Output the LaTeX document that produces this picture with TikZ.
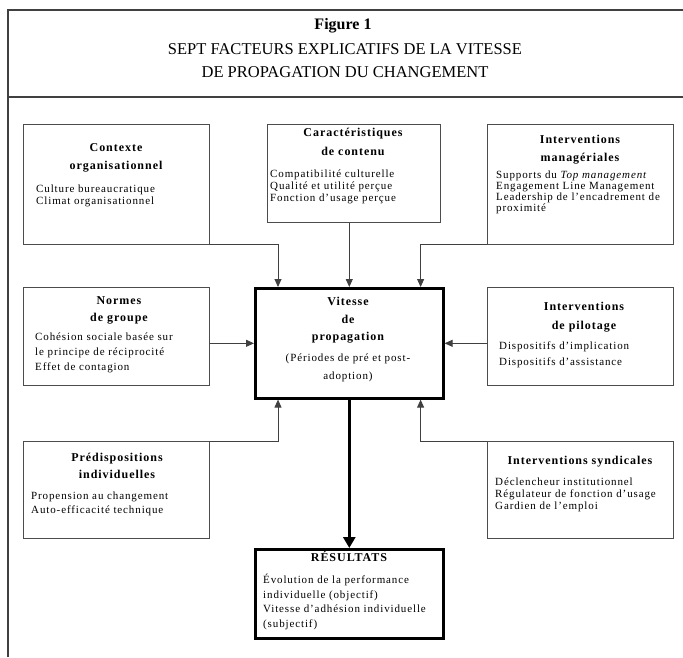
\documentclass[tikz,border=0pt]{standalone}
\usepackage{fontspec}
\setmainfont{Liberation Serif}
\newfontfamily\bodyfont{Liberation Serif}[LetterSpace=8]
\usetikzlibrary{arrows.meta}
\begin{document}
\begin{tikzpicture}[x=1pt,y=-1pt,
  box/.style={draw=black!70, line width=0.9pt, anchor=north west, inner sep=0pt},
  mainbox/.style={draw=black, line width=2.6pt, anchor=north west, inner sep=0pt},
  frame/.style={draw=black!75, line width=1.3pt},
  conn/.style={draw=black!75, line width=0.9pt, -{Triangle[length=8pt,width=7pt]}},
  bigconn/.style={draw=black, line width=3pt, -{Triangle[length=11pt,width=12pt]}},
  bt/.style={font=\bodyfont\fontsize{11}{12}\selectfont, inner sep=0pt, anchor=mid west},
  bc/.style={font=\bodyfont\fontsize{11}{12}\selectfont, inner sep=0pt, anchor=mid},
  tt/.style={font=\bodyfont\bfseries\fontsize{12}{13}\selectfont, inner sep=0pt, anchor=mid},
  hd/.style={font=\fontsize{16.5}{18}\selectfont, inner sep=0pt, anchor=mid}
]
\useasboundingbox (0,0) rectangle (683,657);
% frame
\draw[frame] (8,657) -- (8,10) -- (683,10);
\draw[frame] (8,97) -- (683,97);
\node[hd, font=\bfseries\fontsize{16}{18}\selectfont] (h1) at (343,27) {Figure 1};
\node[hd] (h2) at (345,52) {SEPT FACTEURS EXPLICATIFS DE LA VITESSE};
\node[hd] (h3) at (345,75) {DE PROPAGATION DU CHANGEMENT};

% boxes
\node[box, minimum width=186pt, minimum height=120pt] (ctx) at (23,124) {};
\node[box, minimum width=173pt, minimum height=98pt] (car) at (267,124) {};
\node[box, minimum width=186pt, minimum height=120pt] (man) at (487,124) {};
\node[box, minimum width=186pt, minimum height=98pt] (nor) at (23,287) {};
\node[box, minimum width=186pt, minimum height=98pt] (pil) at (487,287) {};
\node[box, minimum width=186pt, minimum height=97pt] (pre) at (23,441) {};
\node[box, minimum width=186pt, minimum height=97pt] (syn) at (487,441) {};
\node[mainbox, minimum width=188pt, minimum height=110pt] (vit) at (254,287) {};
\node[mainbox, minimum width=188pt, minimum height=89pt] (res) at (254,548) {};

% texts: Contexte
\node[tt] (ctx1) at (116,149) {Contexte};
\node[tt] (ctx2) at (116,167) {organisationnel};
\node[bt] (ctx3) at (36,190) {Culture bureaucratique};
\node[bt] (ctx4) at (36,202) {Climat organisationnel};
% Caracteristiques
\node[tt] (car1) at (353,134) {Caractéristiques};
\node[tt] (car2) at (353,153) {de contenu};
\node[bt] (car3) at (270,175) {Compatibilité culturelle};
\node[bt] (car4) at (270,187) {Qualité et utilité perçue};
\node[bt] (car5) at (270,199) {Fonction d’usage perçue};
% Manageriales
\node[tt] (man1) at (580,141) {Interventions};
\node[tt] (man2) at (580,159) {managériales};
\node[bt] (man3) at (496,176) {Supports du \textit{Top management}};
\node[bt] (man4) at (496,187) {Engagement Line Management};
\node[bt] (man5) at (496,198) {Leadership de l’encadrement de};
\node[bt] (man6) at (496,209) {proximité};
% Normes
\node[tt] (nor1) at (119,302) {Normes};
\node[tt] (nor2) at (119,319) {de groupe};
\node[bt] (nor3) at (35,338) {Cohésion sociale basée sur};
\node[bt] (nor4) at (35,353) {le principe de réciprocité};
\node[bt] (nor5) at (35,368) {Effet de contagion};
% Vitesse
\node[tt] (vit1) at (348,303) {Vitesse};
\node[tt] (vit2) at (348,321) {de};
\node[tt] (vit3) at (348,338) {propagation};
\node[bc] (vit4) at (348,359) {(Périodes de pré et post-};
\node[bc] (vit5) at (348,377) {adoption)};
% Pilotage
\node[tt] (pil1) at (584,308) {Interventions};
\node[tt] (pil2) at (584,327) {de pilotage};
\node[bt] (pil3) at (499,347) {Dispositifs d’implication};
\node[bt] (pil4) at (499,363) {Dispositifs d’assistance};
% Predispositions
\node[tt] (pre1) at (117,459) {Prédispositions};
\node[tt] (pre2) at (117,476) {individuelles};
\node[bt] (pre3) at (31,497) {Propension au changement};
\node[bt] (pre4) at (31,511) {Auto-efficacité technique};
% Syndicales
\node[tt] (syn1) at (580,462) {Interventions syndicales};
\node[bt] (syn2) at (495,483) {Déclencheur institutionnel};
\node[bt] (syn3) at (495,495) {Régulateur de fonction d’usage};
\node[bt] (syn4) at (495,507) {Gardien de l’emploi};
% Resultats
\node[tt] (res1) at (349,559) {RÉSULTATS};
\node[bt] (res2) at (263,581) {Évolution de la performance};
\node[bt] (res3) at (263,596) {individuelle (objectif)};
\node[bt] (res4) at (263,610) {Vitesse d’adhésion individuelle};
\node[bt] (res5) at (263,625) {(subjectif)};

% connectors
\draw[conn] (ctx.south east) -| ([xshift=24pt]vit.north west);
\draw[conn] (car.south -| vit.north) -- (vit.north);
\draw[conn] (man.south west) -| ([xshift=-24pt]vit.north east);
\draw[conn] (nor.east |- vit.west) -- (vit.west);
\draw[conn] (pil.west |- vit.east) -- (vit.east);
\draw[conn] (pre.north east) -| ([xshift=24pt]vit.south west);
\draw[conn] (syn.north west) -| ([xshift=-24pt]vit.south east);
\draw[bigconn] (vit.south) -- (res.north);
\end{tikzpicture}
\end{document}
